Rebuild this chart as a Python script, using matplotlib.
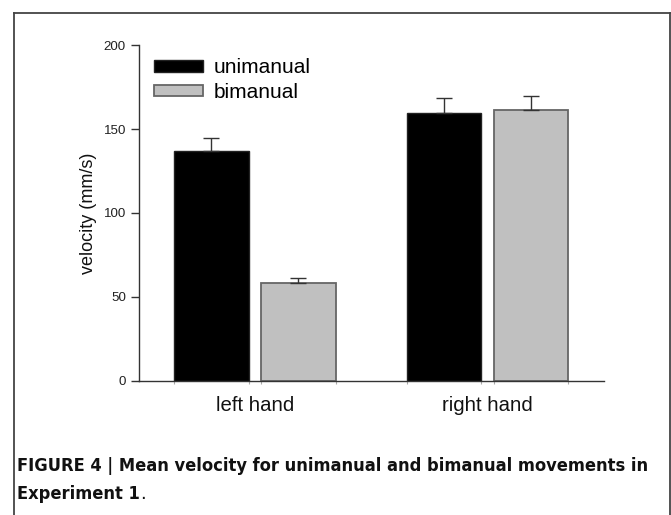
import matplotlib
matplotlib.use("Agg")
import matplotlib.pyplot as plt
from matplotlib import font_manager as fm
from matplotlib.lines import Line2D
import numpy as np

categories = ["left hand", "right hand"]
series_names = ["unimanual", "bimanual"]
unimanual = [137, 159.4]
unimanual_err = [7.5, 9]
bimanual = [58, 161.3]
bimanual_err = [3.3, 8.5]
yticks = [0, 50, 100, 150, 200]

W, H = 671, 515
fig = plt.figure(figsize=(W / 100, H / 100), dpi=100)
ax = fig.add_axes([138.5 / W, (H - 380.5) / H, (604 - 138.5) / W, (380.5 - 45.3) / H])

x = np.arange(len(categories))
bw = 0.32
off = 0.187
ekw = dict(ecolor="#333333", elinewidth=1.0, capsize=6, capthick=1.0)
ax.bar(x - off, unimanual, bw, color="black", edgecolor="#222222", linewidth=1.0,
       yerr=[np.zeros(2), unimanual_err], error_kw=ekw, label=series_names[0], zorder=2)
ax.bar(x + off, bimanual, bw, color="#c0c0c0", edgecolor="#666666", linewidth=1.3,
       yerr=[np.zeros(2), bimanual_err], error_kw=ekw, label=series_names[1], zorder=2)

ax.set_xlim(-0.5, 1.5)
ax.set_ylim(0, 200)
ax.set_yticks(yticks)
ax.set_xticks(x)
ax.set_xticklabels(categories, fontsize=14.7, family="Liberation Sans", color="#111111")
for lab in ax.get_yticklabels():
    lab.set_fontsize(9.6)
    lab.set_family("Liberation Sans")
    lab.set_color("#222222")
ax.tick_params(axis="y", direction="out", length=6, width=1, color="#333333", pad=3)
ax.tick_params(axis="x", length=0, pad=11)
edges = np.concatenate([x - off - bw / 2, x - off + bw / 2, x + off - bw / 2, x + off + bw / 2])
ax.set_xticks(edges, minor=True)
ax.tick_params(axis="x", which="minor", direction="out", length=2, width=0.8, color="#aaaaaa")

for s in ["top", "right"]:
    ax.spines[s].set_visible(False)
for s in ["left", "bottom"]:
    ax.spines[s].set_color("#333333")
    ax.spines[s].set_linewidth(1.0)

ax.set_ylabel("velocity (mm/s)", fontsize=13, family="Liberation Sans", color="#111111", labelpad=5)

leg = ax.legend(loc="upper left", bbox_to_anchor=(0.033, 0.962), frameon=False,
                prop={"family": "Liberation Sans", "size": 15},
                handlelength=2.35, handleheight=0.5, handletextpad=0.5,
                labelspacing=0.28, borderpad=0, borderaxespad=0)

# frame around figure panel
fc = "#444444"
fig.add_artist(Line2D([13.5 / W, 13.5 / W], [0, (H - 12.5) / H], color=fc, lw=1.3))
fig.add_artist(Line2D([13.5 / W, 669.5 / W], [(H - 12.5) / H, (H - 12.5) / H], color=fc, lw=1.3))
fig.add_artist(Line2D([669.5 / W, 669.5 / W], [0, (H - 12.5) / H], color=fc, lw=1.3))

# pick a condensed bold face if one is installed
cap_family = "Liberation Sans"
cap_stretch = "normal"
for f in fm.fontManager.ttflist:
    if "Condensed" in f.fname or "Narrow" in f.fname:
        if f.weight in ("bold", 700) or "Bold" in f.fname:
            cap_family = f.name
            cap_stretch = f.stretch
            break

t1 = fig.text(17 / W, (H - 466) / H, "FIGURE 4 | Mean velocity for unimanual and bimanual movements in",
              fontsize=14, fontweight="bold", family=cap_family, fontstretch=cap_stretch,
              va="center", ha="left", color="#111111")
t2 = fig.text(17 / W, (H - 494) / H, "Experiment 1", fontsize=14, fontweight="bold",
              family=cap_family, fontstretch=cap_stretch, va="center", ha="left", color="#111111")
fig.canvas.draw()
r = fig.canvas.get_renderer()
wpx = t1.get_window_extent(r).width
scale = 635.0 / wpx
t1.set_fontsize(14 * scale)
t2.set_fontsize(14 * scale)
fig.canvas.draw()
bb = t2.get_window_extent(r)
fig.text(bb.x1 / W, (H - 494) / H, ".", fontsize=14 * scale, family=cap_family,
         va="center", ha="left", color="#111111")

fig.savefig("out.png", dpi=100)
